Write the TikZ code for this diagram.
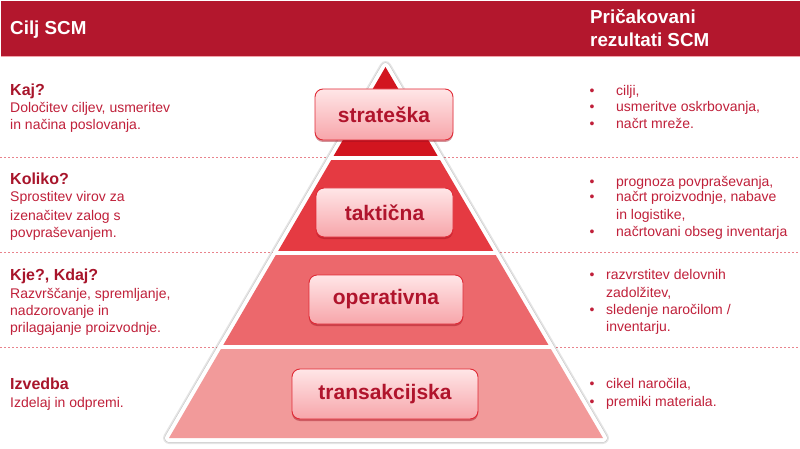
\documentclass[tikz,border=0pt]{standalone}
\usepackage{fontspec}
\setmainfont{Liberation Sans}
\usetikzlibrary{shadows}
\definecolor{hdr}{HTML}{B3172D}
\definecolor{hdrline}{HTML}{F2A3AA}
\definecolor{tone}{HTML}{D2151F}
\definecolor{ttwo}{HTML}{E53A42}
\definecolor{tthree}{HTML}{EC686C}
\definecolor{tfour}{HTML}{F29A9A}
\definecolor{headc}{HTML}{A8152B}
\definecolor{bodyc}{HTML}{C0203A}
\definecolor{dashc}{HTML}{E9838C}
\definecolor{boxtop}{HTML}{FFE6E7}
\definecolor{boxbot}{HTML}{F7A5AA}
\definecolor{boxedge}{HTML}{E02A36}
\definecolor{boxtext}{HTML}{B0142C}
\definecolor{boxshad}{HTML}{A0101F}
\begin{document}
\begin{tikzpicture}[x=1pt,y=-1pt,
  hdrtext/.style={anchor=base west, inner sep=0, text=white, font=\fontsize{18.8}{22}\selectfont\bfseries},
  headt/.style={anchor=base west, inner sep=0, text=headc, font=\fontsize{16}{19}\selectfont\bfseries},
  bodyt/.style={anchor=base west, inner sep=0, text=bodyc, font=\fontsize{14}{17}\selectfont},
  bult/.style={anchor=base, inner sep=0, text=bodyc, font=\fontsize{14}{17}\selectfont},
  dashline/.style={draw=dashc, line width=0.8, dash pattern=on 2 off 2},
  lvl/.style={draw=boxedge, line width=0.9, rounded corners=8, top color=boxtop, bottom color=boxbot,
    text=boxtext, font=\fontsize{21}{25}\selectfont\bfseries, inner sep=0,
    drop shadow={shadow xshift=0pt, shadow yshift=-2pt, fill=boxshad, opacity=.45}}
]
\useasboundingbox (0,0) rectangle (800,449);
\fill[white] (0,0) rectangle (800,449);
% header
\fill[hdr] (1,1) rectangle (800,56);
\draw[hdrline, line width=1] (1,57) -- (800,57);
\node[hdrtext] (h1) at (10,35) {Cilj SCM};
\node[hdrtext] (h2) at (590,24) {Pričakovani};
\node[hdrtext] (h3) at (590,47) {rezultati SCM};
% dashed separators
\coordinate (d1l) at (0,157); \coordinate (d1r) at (800,157);
\coordinate (d2l) at (0,252); \coordinate (d2r) at (800,252);
\coordinate (d3l) at (0,347); \coordinate (d3r) at (800,347);
\draw[dashline] (d1l) -- (d1r);
\draw[dashline] (d2l) -- (d2r);
\draw[dashline] (d3l) -- (d3r);
% pyramid
\coordinate (A) at (385.5,67);
\coordinate (BL) at (169,438);
\coordinate (BR) at (603,438);
\begin{scope}[shift={(0,3)}]
  \draw[black, opacity=.10, line width=12, line join=round] (A) -- (BL) -- (BR) -- cycle;
  \draw[black, opacity=.14, line width=9, line join=round] (A) -- (BL) -- (BR) -- cycle;
\end{scope}
\draw[white, fill=white, line width=8, line join=round] (A) -- (BL) -- (BR) -- cycle;
\begin{scope}
  \clip (A) -- (BL) -- (BR) -- cycle;
  \fill[tone]   (150,60)  rectangle (620,156);
  \fill[ttwo]   (150,160) rectangle (620,251);
  \fill[tthree] (150,255) rectangle (620,345);
  \fill[tfour]  (150,349) rectangle (620,440);
\end{scope}
% level boxes
\node[lvl, minimum width=138, minimum height=51] (s) at (384,114.5) {strateška};
\node[lvl, minimum width=137, minimum height=49] (t) at (384.5,212.5) {taktična};
\node[lvl, minimum width=154, minimum height=49] (o) at (386,299.5) {operativna};
\node[lvl, minimum width=186, minimum height=50] (x) at (385,394) {transakcijska};
% left texts
\node[headt] (k1) at (10,96) {Kaj?};
\node[bodyt] (k1a) at (10,113) {Določitev ciljev, usmeritev};
\node[bodyt] (k1b) at (10,130) {in načina poslovanja.};
\node[headt] (k2) at (10,185) {Koliko?};
\node[bodyt] (k2a) at (10,202) {Sprostitev virov za};
\node[bodyt] (k2b) at (10,220) {izenačitev zalog s};
\node[bodyt] (k2c) at (10,237) {povpraševanjem.};
\node[headt] (k3) at (10,280) {Kje?, Kdaj?};
\node[bodyt] (k3a) at (10,298) {Razvrščanje, spremljanje,};
\node[bodyt] (k3b) at (10,315) {nadzorovanje in};
\node[bodyt] (k3c) at (10,332) {prilagajanje proizvodnje.};
\node[headt] (k4) at (10,389) {Izvedba};
\node[bodyt] (k4a) at (10,407) {Izdelaj in odpremi.};
% right texts
\node[bult] (b1) at (592,96) {•};
\node[bodyt] (r1) at (616,96) {cilji,};
\node[bult] (b2) at (592,112) {•};
\node[bodyt] (r2) at (616,112) {usmeritve oskrbovanja,};
\node[bult] (b3) at (592,129) {•};
\node[bodyt] (r3) at (616,129) {načrt mreže.};
\node[bult] (b4) at (592,186) {•};
\node[bodyt] (r4) at (616,186) {prognoza povpraševanja,};
\node[bult] (b5) at (592,202) {•};
\node[bodyt] (r5) at (616,202) {načrt proizvodnje, nabave};
\node[bodyt] (r5b) at (616,219) {in logistike,};
\node[bult] (b6) at (592,236) {•};
\node[bodyt] (r6) at (616,236) {načrtovani obseg inventarja};
\node[bult] (b7) at (592,279) {•};
\node[bodyt] (r7) at (606,279) {razvrstitev delovnih};
\node[bodyt] (r7b) at (606,297) {zadolžitev,};
\node[bult] (b8) at (592,314) {•};
\node[bodyt] (r8) at (606,314) {sledenje naročilom /};
\node[bodyt] (r8b) at (606,331) {inventarju.};
\node[bult] (b9) at (592,388) {•};
\node[bodyt] (r9) at (606,388) {cikel naročila,};
\node[bult] (b10) at (592,406) {•};
\node[bodyt] (r10) at (606,406) {premiki materiala.};
\end{tikzpicture}
\end{document}
